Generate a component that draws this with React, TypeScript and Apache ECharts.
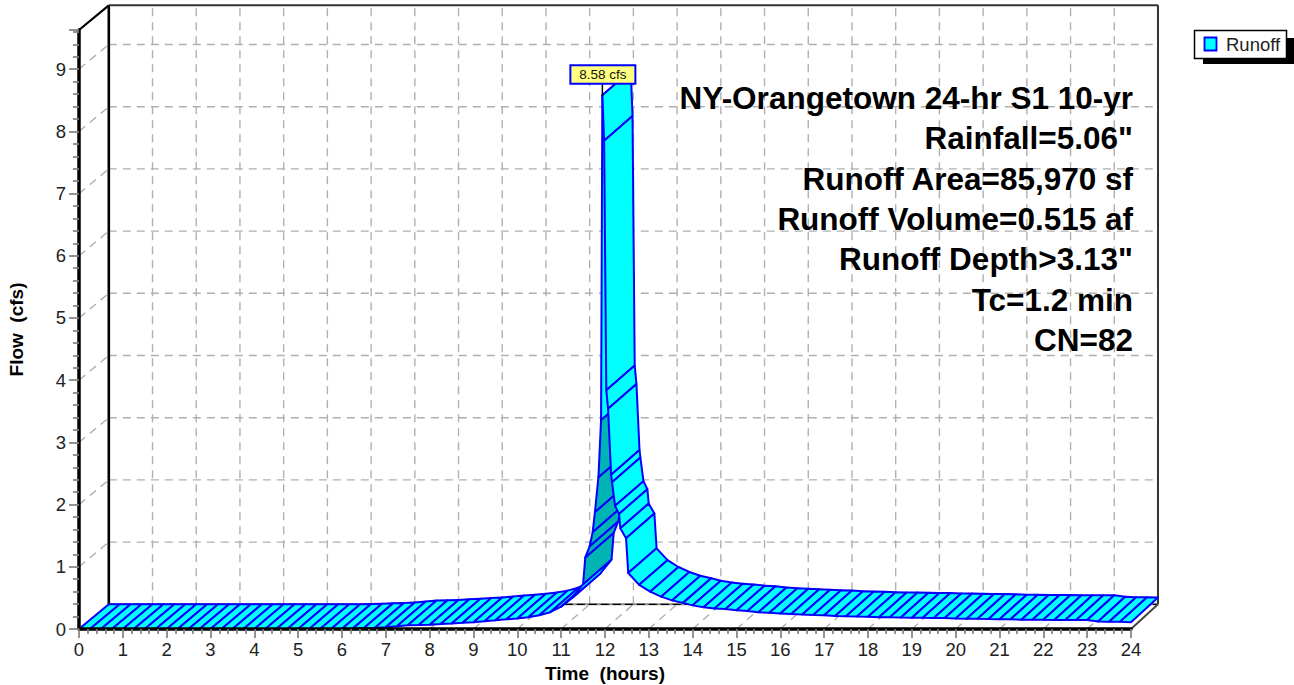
import React, { useEffect, useRef } from "react";
import * as echarts from "echarts";

const hoursLow = [0,0.25,0.5,0.75,1,1.25,1.5,1.75,2,2.25,2.5,2.75,3,3.25,3.5,3.75,4,4.25,4.5,4.75,5,5.25,5.5,5.75,6,6.25,6.5,6.75,7,7.25,7.5,7.75,8,8.25,8.5,8.75,9,9.25,9.5,9.75,10,10.25,10.5,10.75,11,11.25,11.5];
const flowLow = [0,0,0,0,0,0,0,0,0,0,0,0,0,0,0,0,0,0,0,0,0,0,0,0,0.005,0.01,0.015,0.02,0.03,0.045,0.06,0.065,0.07,0.08,0.09,0.1,0.11,0.125,0.14,0.155,0.17,0.19,0.22,0.27,0.36,0.5,0.72];
const hoursPeak = [11.55,11.65,11.72,11.77,11.85,11.91,11.94,11.98,12.03,12.07,12.14,12.16,12.23,12.32,12.35,12.48,12.53];
const flowPeak = [1.15,1.33,1.56,1.88,2.44,3.36,8.58,7.85,3.84,3.54,2.48,2.36,1.98,1.85,1.62,1.46,0.9];
const hoursTail = [12.78,13.03,13.28,13.53,13.78,14,14.25,14.5,14.75,15,15.25,15.5,15.75,16,16.25,16.5,16.75,17,17.25,17.5,17.75,18,18.25,18.5,18.75,19,19.25,19.5,19.75,20,20.25,20.5,20.75,21,21.25,21.5,21.75,22,22.25,22.5,22.75,23,23.25,23.5,23.75,24];
const flowTail = [0.71,0.6,0.52,0.46,0.42,0.38,0.35,0.33,0.32,0.3,0.29,0.27,0.26,0.25,0.24,0.235,0.225,0.22,0.21,0.205,0.2,0.195,0.19,0.19,0.185,0.18,0.18,0.175,0.175,0.17,0.165,0.165,0.16,0.155,0.155,0.15,0.15,0.15,0.145,0.145,0.145,0.145,0.12,0.115,0.115,0.11];
const undersideRange = [11.5, 11.91];
const peakLabel = "8.58 cfs";
const xTicks = [0,1,2,3,4,5,6,7,8,9,10,11,12,13,14,15,16,17,18,19,20,21,22,23,24];
const yTicks = [0,1,2,3,4,5,6,7,8,9];
const noteLines = ["NY-Orangetown 24-hr S1 10-yr", "Rainfall=5.06\"", "Runoff Area=85,970 sf", "Runoff Volume=0.515 af", "Runoff Depth>3.13\"", "Tc=1.2 min", "CN=82"];
const legendName = "Runoff";

const hours = [...hoursLow, ...hoursPeak, ...hoursTail];
const flows = [...flowLow, ...flowPeak, ...flowTail];
const FONT = "'Liberation Sans', Arial, sans-serif";
const Y_MAX = 9.63;
const back = (api: any, t: number, q: number) => {
  const p = api.coord([t, q]);
  return [p[0] + 29.8 - 0.117 * t, p[1] - 24.7];
};

export default function App() {
  const ref = useRef<HTMLDivElement>(null);
  useEffect(() => {
    const chart = echarts.init(ref.current!, null, { renderer: "svg" });
    const gridStyle = { stroke: "#b0b0b0", lineWidth: 1.4, lineDash: [8, 6], fill: "none" };
    const line = (a: number[], b: number[], style: any) => ({
      type: "line", shape: { x1: a[0], y1: a[1], x2: b[0], y2: b[1] }, style,
    });
    const segs = hours.slice(0, -1).map((t, i) => [t, flows[i], hours[i + 1], flows[i + 1]]);
    const peakIdx = flows.indexOf(Math.max(...flows));
    chart.setOption({
      animation: false,
      grid: { left: 79, right: 163, top: 30, bottom: 56, containLabel: false, outerBoundsMode: "none" },
      xAxis: {
        type: "value", min: 0, max: 24, interval: 1, z: 6,
        name: "Time  (hours)", nameLocation: "middle", nameGap: 35,
        nameTextStyle: { fontFamily: FONT, fontSize: 19, fontWeight: "bold", color: "#000" },
        axisLine: { onZero: false, lineStyle: { color: "#000", width: 3.5 } },
        axisTick: { show: true, length: 9, lineStyle: { color: "#808080", width: 1.7 } },
        minorTick: { show: true, splitNumber: 5, length: 5, lineStyle: { color: "#808080", width: 1.7 } },
        axisLabel: { margin: 11, fontFamily: FONT, fontSize: 18.5, color: "#222",
          formatter: (v: number) => (xTicks.includes(v) ? String(v) : "") },
        splitLine: { show: false },
      },
      yAxis: {
        type: "value", min: 0, max: Y_MAX, interval: 1, z: 6,
        name: "Flow  (cfs)", nameLocation: "middle", nameGap: 53, nameRotate: 90,
        nameTextStyle: { fontFamily: FONT, fontSize: 19, fontWeight: "bold", color: "#000" },
        axisLine: { onZero: false, lineStyle: { color: "#000", width: 3.5 } },
        axisTick: { show: true, length: 10, lineStyle: { color: "#808080", width: 1.7 } },
        minorTick: { show: true, splitNumber: 5, length: 6, lineStyle: { color: "#808080", width: 1.7 } },
        axisLabel: { margin: 13, showMaxLabel: false, fontFamily: FONT, fontSize: 18.5, color: "#222",
          formatter: (v: number) => (yTicks.includes(v) ? String(v) : "") },
        splitLine: { show: false },
      },
      series: [
        {
          type: "custom", silent: true, z: 1, clip: false, data: [[0, 0]],
          encode: { x: 0, y: 1 },
          renderItem: (_: any, api: any) => {
            const kids: any[] = [];
            const pos = (t: number, q: number) => api.coord([t, q]);
            xTicks.forEach((t) => {
              if (t > 0 && t < 24) kids.push(line(back(api, t, 0), back(api, t, Y_MAX), gridStyle));
              if (t > 0 && t < 24) kids.push(line(pos(t, 0), back(api, t, 0), gridStyle));
            });
            yTicks.forEach((v) => {
              if (v > 0) {
                kids.push(line(back(api, 0, v), back(api, 24, v), gridStyle));
                kids.push(line(pos(0, v), back(api, 0, v), gridStyle));
              }
            });
            const solid = { stroke: "#000", lineWidth: 2, fill: "none" };
            kids.push(line(back(api, 0, 0), back(api, 0, Y_MAX), { ...solid, lineWidth: 2.6 }));
            kids.push(line(back(api, 0, Y_MAX), back(api, 24, Y_MAX), { ...solid, stroke: "#333" }));
            kids.push(line(pos(0, Y_MAX), back(api, 0, Y_MAX), { ...solid, lineWidth: 2.2 }));
            kids.push(line(back(api, 24, 0), back(api, 24, Y_MAX), { ...solid, stroke: "#333" }));
            kids.push(line(back(api, 0, 0), back(api, 24, 0), { ...solid, stroke: "#888" }));
            kids.push(line(back(api, 0, 0), back(api, 24, 0), { ...solid, stroke: "#000", lineWidth: 1.2, lineDash: [8, 4] }));
            kids.push(line(pos(24, 0), back(api, 24, 0), { ...solid, stroke: "#444" }));
            return { type: "group", children: kids };
          },
        },
        {
          type: "custom", silent: true, z: 3, clip: false, data: segs,
          encode: { x: 0, y: 1 },
          renderItem: (_: any, api: any) => {
            const t0 = api.value(0), q0 = api.value(1), t1 = api.value(2), q1 = api.value(3);
            const under = t0 >= undersideRange[0] && t1 <= undersideRange[1];
            return {
              type: "polygon",
              shape: { points: [api.coord([t0, q0]), back(api, t0, q0), back(api, t1, q1), api.coord([t1, q1])] },
              style: { fill: under ? "#00B4B4" : "#00FFFF", stroke: "#0000FF", lineWidth: 2, lineJoin: "round" },
            };
          },
        },
        {
          type: "custom", silent: true, z: 7, clip: false, data: [[hours[peakIdx], flows[peakIdx]]],
          encode: { x: 0, y: 1 },
          renderItem: (_: any, api: any) => {
            const p = api.coord([api.value(0), api.value(1)]);
            return {
              type: "group",
              children: [
                line([p[0], p[1] + 1], [p[0], p[1] - 14], { stroke: "#000", lineWidth: 1.5, fill: "none" }),
                { type: "rect", shape: { x: p[0] - 32, y: p[1] - 30, width: 65, height: 18.5 },
                  style: { fill: "#FFFF80", stroke: "#0000FF", lineWidth: 2 } },
                { type: "text", x: p[0] + 0.5, y: p[1] - 20.5,
                  style: { text: peakLabel, fill: "#111", font: `13.5px ${FONT}`, textAlign: "center", textVerticalAlign: "middle" } },
              ],
            };
          },
        },
      ],
      graphic: [
        ...noteLines.map((s, i) => ({
          type: "text", x: 1133, y: 98 + i * 40.3, z: 20,
          style: { text: s, fill: "#000", font: `bold 31.5px ${FONT}`, textAlign: "right", textVerticalAlign: "middle" },
        })),
        { type: "rect", shape: { x: 1203, y: 38, width: 91, height: 26 }, style: { fill: "#000" }, z: 20 },
        { type: "rect", shape: { x: 1194.5, y: 30.5, width: 92, height: 28 }, style: { fill: "#fff", stroke: "#000", lineWidth: 1.5 }, z: 21 },
        { type: "rect", shape: { x: 1204.5, y: 37.5, width: 12, height: 13 }, style: { fill: "#00FFFF", stroke: "#0000FF", lineWidth: 1.8 }, z: 22 },
        { type: "text", x: 1226, y: 44, z: 22,
          style: { text: legendName, fill: "#222", font: `18.5px ${FONT}`, textAlign: "left", textVerticalAlign: "middle" } },
      ],
    });
    return () => chart.dispose();
  }, []);
  return <div ref={ref} style={{ position: "fixed", left: 0, top: 0, width: 1294, height: 685, background: "#fff" }} />;
}
